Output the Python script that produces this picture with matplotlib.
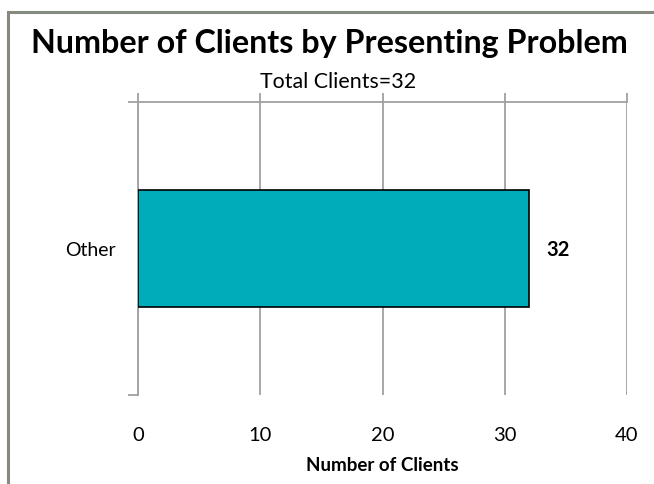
import matplotlib.pyplot as plt
from matplotlib.patches import Rectangle
import numpy as np

# data
categories = ['Other']
clients = [32]
total_clients = 32
x_ticks = [0, 10, 20, 30, 40]

plt.rcParams['font.family'] = ['Lato', 'DejaVu Sans']

fig = plt.figure(figsize=(6.54, 4.85), dpi=100)
ax = fig.add_axes([138/654, 89/485, 489/654, 293/485])

# outer chart frame (only left and top edges visible in the reference)
fig.patches.append(Rectangle((7.5/654, -0.1), 1.2, (485-13)/485 + 0.1,
                             transform=fig.transFigure, fill=False,
                             edgecolor='#858a7e', linewidth=2.2))

y = np.arange(len(categories))
bars = ax.barh(y, clients, height=0.4, color='#00abba', edgecolor='black',
               linewidth=1.2, zorder=3)

for rect, v in zip(bars, clients):
    ax.text(rect.get_width() + 2.35, rect.get_y() + rect.get_height()/2, str(v),
            ha='center', va='center', fontsize=14.5, fontweight='bold')

ax.set_xlim(0, 40)
ax.set_ylim(0.5, -0.5)
ax.set_xticks(x_ticks)
ax.set_yticks(y)
ax.set_yticklabels(categories)
ax.set_yticks([-0.5, 0.5], minor=True)

gcol = '#a0a0a0'
ax.xaxis.grid(True, color=gcol, linewidth=1.3, zorder=0)
for s in ['bottom', 'right']:
    ax.spines[s].set_visible(False)
for s in ['top', 'left']:
    ax.spines[s].set_color(gcol)
    ax.spines[s].set_linewidth(1.3)

ax.tick_params(axis='x', top=True, bottom=False, labeltop=False,
               labelbottom=True, direction='out', length=6.5, width=1.3,
               color=gcol, labelsize=14.5, pad=16)
ax.tick_params(axis='y', which='major', length=0, pad=16, labelsize=14)
ax.tick_params(axis='y', which='minor', length=7, width=1.3, color=gcol)

ax.set_xlabel('Number of Clients', fontsize=13.5, fontweight='bold', labelpad=9)

fig.text(329/654, (485-53)/485, 'Number of Clients by Presenting Problem',
         ha='center', va='baseline', fontsize=23.2, fontweight='bold')
fig.text(338/654, (485-88)/485, f'Total Clients={total_clients}',
         ha='center', va='baseline', fontsize=15.4)

fig.savefig('out.png', dpi=100)
